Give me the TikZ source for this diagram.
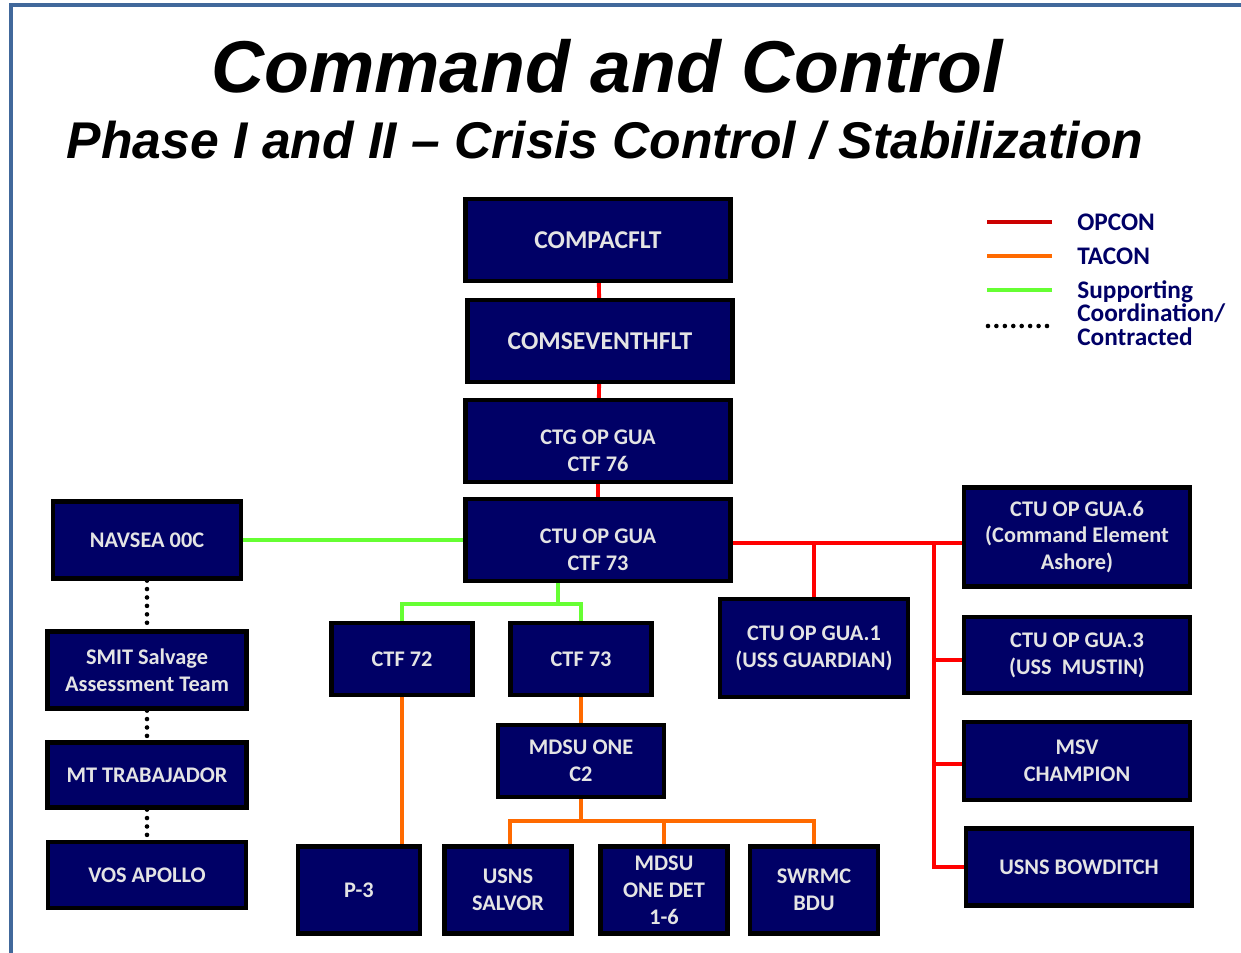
\documentclass[tikz,border=0pt]{standalone}
\usepackage{fontspec}
\setmainfont{Carlito}
\newfontfamily\titlefont{Liberation Sans}
\usepackage{xcolor}
\usepackage{tikz}
\usetikzlibrary{calc,positioning}
\definecolor{boxfill}{HTML}{000066}
\definecolor{boxtext}{HTML}{E4E4E4}
\definecolor{framecol}{HTML}{41689B}
\definecolor{keyred}{HTML}{CC0000}
\definecolor{opred}{HTML}{FF0000}
\definecolor{taorange}{HTML}{FF6A00}
\definecolor{supgreen}{HTML}{66FF33}
% pushes a two-line label a little lower in its box
\newcommand{\lowstrut}{\rule{0pt}{19pt}}

\begin{document}
\begin{tikzpicture}[x=0.02cm, y=-0.02cm]
      \tikzstyle{bnode} = [draw=black, line width=2.4pt, fill=boxfill, text=boxtext, align=center,
      inner sep=2pt, font=\bfseries\fontsize{12.7}{15.3}\selectfont]
      \tikzstyle{bignode} = [bnode, font=\bfseries\fontsize{14.6}{16}\selectfont]
      \tikzstyle{knode} = [anchor=west, text=boxfill, inner sep=0pt, align=left,
      font=\bfseries\fontsize{14.4}{13.4}\selectfont]
      \tikzstyle{oline} = [opred, line width=2.2pt]
      \tikzstyle{tline} = [taorange, line width=2.2pt]
      \tikzstyle{sline} = [supgreen, line width=2.2pt]
      \tikzstyle{dline} = [black, line width=2.6pt, line cap=round, dash pattern=on 0pt off 4.8pt]

      \useasboundingbox (0,0) rectangle (1241,953);
      % frame
      \draw[framecol, line width=2.3pt] (11,953) -- (11,5) -- (1241,5);

      % titles
      \node[anchor=base, inner sep=0pt, font=\titlefont\bfseries\itshape\fontsize{41.8}{44}\selectfont] (ttl) at (607,92) {Command and Control};
      \node[anchor=base, inner sep=0pt, font=\titlefont\bfseries\itshape\fontsize{29.4}{31}\selectfont] (sub) at (605,158) {Phase I and II – Crisis Control / Stabilization};

      % chain of command
      \node[bignode, minimum width=5.3cm, minimum height=1.64cm] (cpf) at (598,240) {COMPACFLT};
      \node[bignode, minimum width=5.3cm, minimum height=1.64cm] (c7f) at (600,341) {COMSEVENTHFLT};
      \node[bnode, minimum width=5.3cm, minimum height=1.64cm] (ctg) at (598,441) {\lowstrut CTG OP GUA\\CTF 76};
      \node[bnode, minimum width=5.3cm, minimum height=1.64cm] (ctu) at (598,540) {\lowstrut CTU OP GUA\\CTF 73};

      % left column
      \node[bnode, minimum width=3.76cm, minimum height=1.54cm] (nav) at (147,540) {NAVSEA 00C};
      \node[bnode, minimum width=3.98cm, minimum height=1.54cm] (smit) at (147,670) {SMIT Salvage\\Assessment Team};
      \node[bnode, minimum width=3.98cm, minimum height=1.30cm] (mt) at (147,775) {MT TRABAJADOR};
      \node[bnode, minimum width=3.96cm, minimum height=1.32cm] (vos) at (147,875) {VOS APOLLO};

      % middle
      \node[bnode, minimum width=2.82cm, minimum height=1.44cm] (tf72) at (402,659) {CTF 72};
      \node[bnode, minimum width=2.82cm, minimum height=1.44cm] (tf73) at (581,659) {CTF 73};
      \node[bnode, minimum width=3.32cm, minimum height=1.44cm] (mdsu) at (581,761) {MDSU ONE\\C2};
      \node[bnode, minimum width=2.44cm, minimum height=1.74cm] (pthree) at (359,890) {P-3};
      \node[bnode, minimum width=2.54cm, minimum height=1.74cm] (salvor) at (508,890) {USNS\\SALVOR};
      \node[bnode, minimum width=2.54cm, minimum height=1.74cm] (mdet) at (664,890) {MDSU\\ONE DET\\1-6};
      \node[bnode, minimum width=2.56cm, minimum height=1.74cm] (swrmc) at (814,890) {SWRMC\\BDU};

      % right column
      \node[bnode, minimum width=3.76cm, minimum height=1.96cm] (gua1) at (814,648) {CTU OP GUA.1\\(USS GUARDIAN)};
      \node[bnode, minimum width=4.52cm, minimum height=1.98cm] (gua6) at (1077,537) {CTU OP GUA.6\\(Command Element\\Ashore)};
      \node[bnode, minimum width=4.52cm, minimum height=1.52cm] (gua3) at (1077,655) {CTU OP GUA.3\\(USS\ \ MUSTIN)};
      \node[bnode, minimum width=4.52cm, minimum height=1.56cm] (msv) at (1077,761) {MSV\\CHAMPION};
      \node[bnode, minimum width=4.52cm, minimum height=1.54cm] (bow) at (1079,867) {USNS BOWDITCH};

      % legend
      \node[knode] (kop) at (1077,222) {OPCON};
      \node[knode] (kta) at (1077,256) {TACON};
      \node[knode, anchor=north west] (ksu) at (1077,280) {Supporting\\Coordination/\\Contracted};
      \draw[keyred, line width=2.2pt] ([xshift=-0.5cm]kop.west) -- ++(-65,0);
      \draw[taorange, line width=2.2pt] ([xshift=-0.5cm]kta.west) -- ++(-65,0);
      \draw[sline] ($(ksu.north west)+(-25,10)$) -- ++(-65,0);
      \draw[dline] ($(ksu.north west)+(-30,46)$) -- ++(-62,0);

      % connections
      \coordinate (gsplit) at (558,604);
      \coordinate (osplit) at (581,821);
      \coordinate (rbus) at (934,543);
      \draw[oline] (cpf) to (c7f);
      \draw[oline] (c7f) to (ctg);
      \draw[oline] (ctg) to (ctu);
      \draw[sline] (nav) to (ctu);
      \draw[sline] (ctu.south -| gsplit) to (gsplit);
      \draw[sline] (tf72.north) |- (gsplit) -| (tf73.north);
      \draw[tline] (tf72.south) to (tf72.south |- pthree.north);
      \draw[tline] (tf73) to (mdsu);
      \draw[tline] (mdsu) to (osplit);
      \draw[tline] (salvor.north -| 510,0) |- (osplit) -| (swrmc.north);
      \draw[tline] (mdet.north) to (mdet.north |- osplit);
      \draw[oline] (ctu.east |- rbus) to (gua6.west |- rbus);
      \draw[oline] (gua1.north) to (gua1.north |- rbus);
      \draw[oline] (rbus) |- (bow.west);
      \draw[oline] (gua3.west |- 0,660) to (rbus |- 0,660);
      \draw[oline] (msv.west |- 0,764) to (rbus |- 0,764);
      \draw[dline] (nav) to (smit);
      \draw[dline] (smit) to (mt);
      \draw[dline] (mt) to (vos);
\end{tikzpicture}
\end{document}
